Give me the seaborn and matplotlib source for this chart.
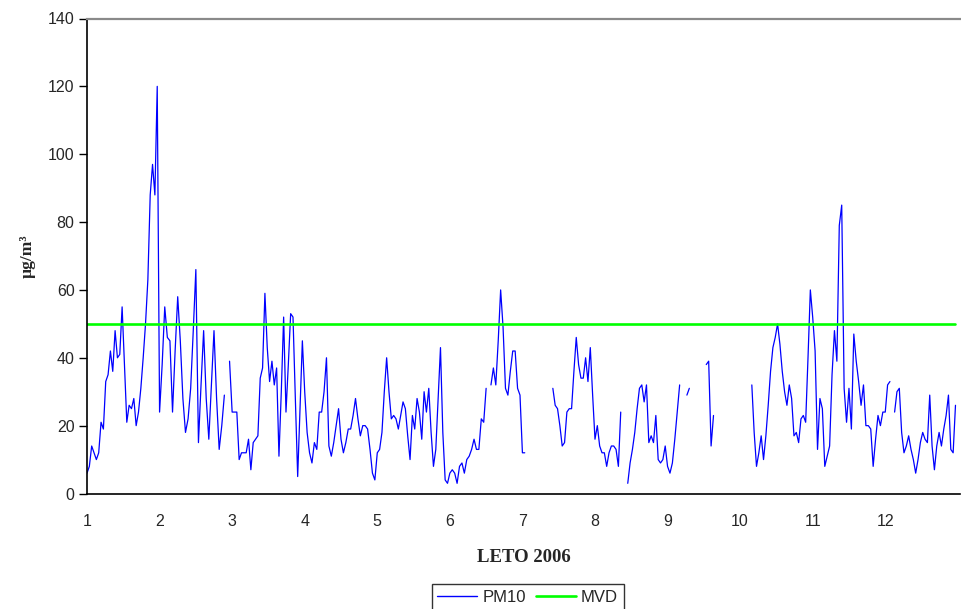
import numpy as np
import pandas as pd
import matplotlib
matplotlib.use("Agg")
import matplotlib.pyplot as plt
import seaborn as sns
from matplotlib.lines import Line2D

nan = np.nan

# month numbers shown on the x axis
months = list(range(1, 13))
month_ticks = list(range(1, 13))
y_ticks = [0, 20, 40, 60, 80, 100, 120, 140]

# daily PM10 values (µg/m3), one list per month, NaN = missing day
jan = [6, 8, 14, 12, 10, 12, 21, 19, 33, 35, 42, 36, 48, 40, 41, 55, 38, 21, 26, 25,
       28, 20, 24, 31, 40, 50, 63, 88, 97, 88, 120]
feb = [24, 38, 55, 46, 45, 24, 42, 58, 45, 28, 18, 22, 31, 48, 66, 15, 32, 48, 28, 16,
       32, 48, 28, 13, 20, 29, nan, 39]
mar = [24, 24, 24, 10, 12, 12, 12, 16, 7, 15, 16, 17, 34, 37, 59, 43, 33, 39, 32, 37,
       11, 30, 52, 24, 38, 53, 52, 28, 5, 25, 45]
apr = [30, 18, 12, 9, 15, 13, 24, 24, 30, 40, 14, 11, 15, 20, 25, 16, 12, 15, 19, 19,
       23, 28, 22, 17, 20, 20, 19, 13, 6, 4]
may = [12, 13, 18, 30, 40, 30, 22, 23, 22, 19, 23, 27, 25, 17, 10, 23, 19, 28, 24, 16,
       30, 24, 31, 18, 8, 13, 28, 43, 18, 4, 3]
jun = [6, 7, 6, 3, 8, 9, 6, 10, 11, 13, 16, 13, 13, 22, 21, 31, nan, 32, 37, 32,
       45, 60, 49, 31, 29, 36, 42, 42, 31, 29]
jul = [12, 12, nan, nan, nan, nan, nan, nan, nan, nan, nan, nan, nan, 31, 26, 25, 20, 14, 15, 24,
       25, 25, 36, 46, 38, 34, 34, 40, 33, 43, 29]
aug = [16, 20, 14, 12, 12, 8, 12, 14, 14, 13, 8, 24, nan, nan, 3, 9, 13, 18, 25, 31,
       32, 27, 32, 15, 17, 15, 23, 10, 9, 10, 14]
sep = [8, 6, 9, 16, 24, 32, nan, nan, 29, 31, nan, nan, nan, nan, nan, nan, 38, 39, 14, 23,
       nan, nan, nan, nan, nan, nan, nan, nan, nan, nan]
oct_ = [nan, nan, nan, nan, nan, 32, 18, 8, 12, 17, 10, 17, 26, 36, 43, 46, 50, 44, 36, 30,
        26, 32, 28, 17, 18, 15, 22, 23, 21, 40, 60]
nov = [52, 42, 13, 28, 25, 8, 11, 14, 35, 48, 39, 79, 85, 31, 21, 31, 19, 47, 39, 33,
       26, 32, 20, 20, 19, 8, 16, 23, 20, 24]
dec = [24, 32, 33, nan, 24, 30, 31, 18, 12, 14, 17, 13, 10, 6, 10, 15, 18, 16, 15, 29,
       14, 7, 14, 18, 14, 19, 23, 29, 13, 12, 26]

# limit value (MVD)
mvd_value = 50

series_names = ["PM10", "MVD"]
x_label = "LETO 2006"
y_label = "µg/m³"

monthly = [jan, feb, mar, apr, may, jun, jul, aug, sep, oct_, nov, dec]
rows = []
for m, vals in zip(months, monthly):
    n = len(vals)
    for d, v in enumerate(vals):
        rows.append((m + d / n, v))
df = pd.DataFrame(rows, columns=["x", "pm10"])
df["seg"] = df["pm10"].isna().cumsum()
df["mvd"] = mvd_value
pm = df.dropna(subset=["pm10"])

sns.set_style("white")
plt.rcParams["font.family"] = ["Liberation Sans", "DejaVu Sans"]

W, H = 961, 609
fig = plt.figure(figsize=(W / 100, H / 100), dpi=100)
left, right, top, bottom = 87, 960, 18.5, 493.5
ax = fig.add_axes([left / W, 1 - bottom / H, (right - left) / W, (bottom - top) / H])

blue = "#0000FF"
green = "#00FF00"

sns.lineplot(data=pm, x="x", y="pm10", units="seg", estimator=None, sort=False,
             color=blue, lw=0.9, ax=ax)
sns.lineplot(data=df, x="x", y="mvd", color=green, lw=1.9, ax=ax)

ax.set_xlim(1, 13.03)
ax.set_ylim(0, 140)
ax.set_xticks(month_ticks)
ax.set_yticks(y_ticks)

for s in ["left", "bottom"]:
    ax.spines[s].set_color("black")
    ax.spines[s].set_linewidth(1.2)
ax.spines["top"].set_color("#8a8a8a")
ax.spines["top"].set_linewidth(1.6)
ax.spines["right"].set_visible(False)

ax.tick_params(axis="y", direction="out", length=6, width=1, color="black",
               labelsize=11.5, pad=3, left=True)
ax.tick_params(axis="x", length=0, labelsize=11.5, pad=15, bottom=True)
ax.grid(False)

ax.set_xlabel(x_label, family="Liberation Serif", fontweight="bold", fontsize=13.5,
              labelpad=14)
ax.set_ylabel(y_label, family="Liberation Serif", fontweight="bold", fontsize=12.5,
              labelpad=9)

handles = [Line2D([], [], color=blue, lw=1.0), Line2D([], [], color=green, lw=1.9)]
leg = fig.legend(handles, series_names, loc="upper center", bbox_to_anchor=(0.549, 1 - 584 / H),
                 ncol=2, frameon=True, fancybox=False, fontsize=12, handlelength=2.4,
                 handletextpad=0.3, columnspacing=0.6, borderpad=0.35, borderaxespad=0)
leg.get_frame().set_edgecolor("black")
leg.get_frame().set_linewidth(1.0)

fig.savefig("out.png", dpi=100)
